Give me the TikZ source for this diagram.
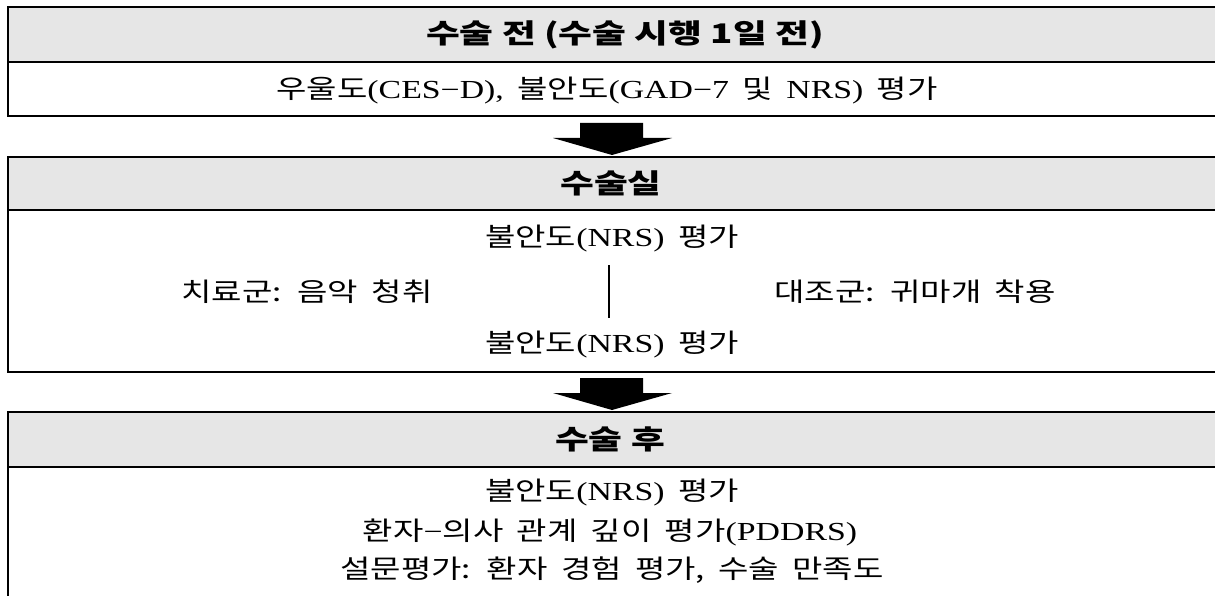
\documentclass[tikz,border=0pt]{standalone}
\usepackage{fontspec}
\setmainfont{Liberation Serif}[FakeStretch=1.3,WordSpace=1.6]
\newfontfamily\kofont{Noto Sans CJK KR}[FakeStretch=1.27,WordSpace=1.8]
\newfontfamily\hdfont{Noto Sans CJK KR}[FakeStretch=1.36]
\newcommand\K[1]{{\kofont #1}}
\definecolor{hdrgray}{RGB}{230,230,230}
\begin{document}
\begin{tikzpicture}[x=1pt,y=-1pt,
  boxline/.style={line width=2.6pt},
  midline/.style={line width=1.8pt},
  hdrtext/.style={font=\hdfont\bfseries\fontsize{27}{32}\selectfont, inner sep=0pt},
  bodytext/.style={font=\fontsize{26}{31}\selectfont, inner sep=0pt},
  blockarrow/.style={fill=black}]
\useasboundingbox (0,0) rectangle (1215,596);
\clip (0,0) rectangle (1215,596);
% box 1
\fill[hdrgray] (8,7) rectangle (1230,62);
\draw[boxline] (1230,7) -- (8,7) -- (8,116) -- (1230,116);
\draw[boxline] (8,62) -- (1230,62);
\node[hdrtext] (h1) at (625,35) {수술 전 (수술 시행 1일 전)};
\node[bodytext] (b1) at (607,91) {\K{우울도}(CES−D), \K{불안도}(GAD−7 \K{및} NRS) \K{평가}};
% box 2
\fill[hdrgray] (8,157) rectangle (1230,210);
\draw[boxline] (1230,157) -- (8,157) -- (8,372) -- (1230,372);
\draw[boxline] (8,210) -- (1230,210);
\node[hdrtext] (h2) at (611,183) {수술실};
\node[bodytext] (n1) at (612,239) {\K{불안도}(NRS) \K{평가}};
\node[bodytext] (tx) at (307,292) {\K{치료군: 음악 청취}};
\node[bodytext] (cx) at (915,292) {\K{대조군: 귀마개 착용}};
\node[bodytext] (n2) at (612,345) {\K{불안도}(NRS) \K{평가}};
\coordinate (v1) at (609,265);
\coordinate (v2) at (609,318);
\draw[midline] (v1) -- (v2);
% box 3
\fill[hdrgray] (8,412) rectangle (1230,467);
\draw[boxline] (1230,412) -- (8,412) -- (8,610);
\draw[boxline] (8,467) -- (1230,467);
\node[hdrtext] (h3) at (610,439) {수술 후};
\node[bodytext] (p1) at (612,493) {\K{불안도}(NRS) \K{평가}};
\node[bodytext] (p2) at (610,532) {\K{환자}−\K{의사 관계 깊이 평가}(PDDRS)};
\node[bodytext] (p3) at (612,570) {\K{설문평가: 환자 경험 평가, 수술 만족도}};
% block arrows
\coordinate (a1) at (612,123);
\coordinate (a2) at (612,378);
\foreach \a in {a1,a2}
  \fill[blockarrow] (\a) +(-32,0) -- +(31,0) -- +(31,15) -- +(60,15) -- +(0,32) -- +(-59,15) -- +(-32,15) -- cycle;
\end{tikzpicture}
\end{document}
